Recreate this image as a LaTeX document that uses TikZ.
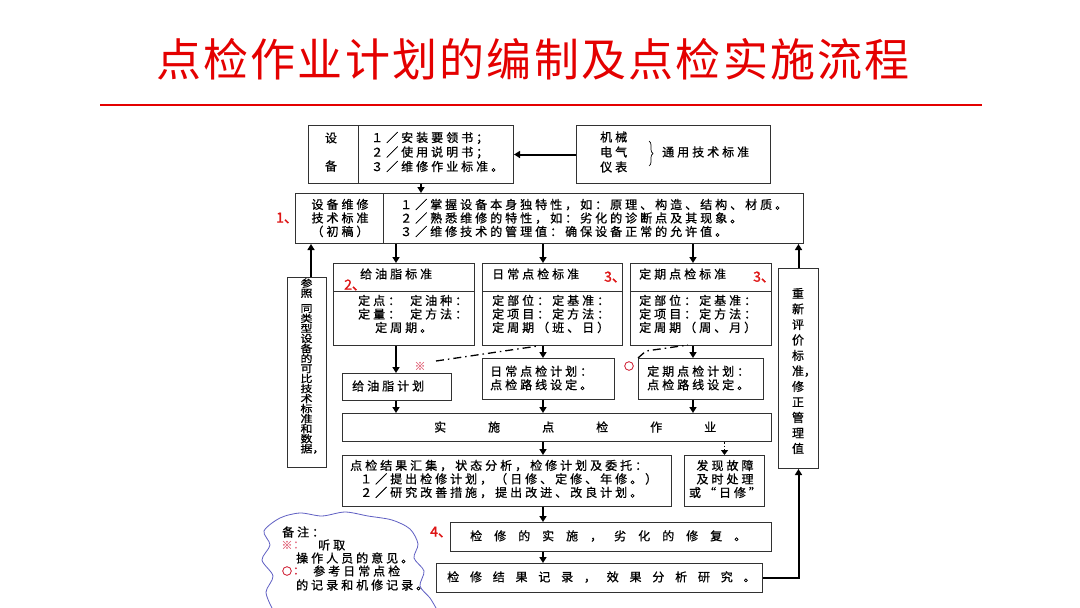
\documentclass[tikz,border=0pt]{standalone}
\usepackage{fontspec}
\setmainfont{Noto Sans CJK SC}
\newfontfamily\cjk{Noto Sans CJK SC}[LetterSpace=25,FakeBold=0.8]
\newfontfamily\titlefont{Noto Sans CJK SC}[LetterSpace=5]
\newfontfamily\plainfont{Noto Sans CJK SC}[FakeBold=0.8]
\newfontfamily\numfont{Noto Sans CJK SC}[FakeBold=1.2]
\newfontfamily\ringfont{Noto Sans CJK SC}[FakeBold=4]
\usetikzlibrary{arrows.meta,calc,decorations.pathreplacing}
\definecolor{titlered}{RGB}{228,0,0}
\definecolor{numred}{RGB}{222,20,20}
\definecolor{markred}{RGB}{228,110,130}
\definecolor{ringred}{RGB}{210,40,60}
\definecolor{cloudblue}{RGB}{95,95,195}
\definecolor{boxline}{RGB}{50,50,50}
\begin{document}
\begin{tikzpicture}[x=1pt,y=-1pt,
  box/.style={draw=boxline,line width=1pt,inner sep=0pt,anchor=north west},
  txt/.style={inner sep=0pt,anchor=west,align=left,font=\cjk\fontsize{12}{13.5}\selectfont},
  ctxt/.style={inner sep=0pt,align=center,font=\cjk\fontsize{12}{13.5}\selectfont},
  arr/.style={line width=2pt,-{Triangle[length=6pt,width=7pt]}},
  num/.style={inner sep=0pt,anchor=west,text=numred,font=\numfont\fontsize{14}{14}\selectfont},
  markst/.style={inner sep=0pt,text=markred,font=\plainfont\fontsize{11}{11}\selectfont},
  ringst/.style={inner sep=0pt,text=ringred,font=\ringfont\fontsize{10}{10}\selectfont},
  divline/.style={draw=boxline,line width=1pt}
]
\useasboundingbox (0,0) rectangle (1080,608);
\fill[white] (0,0) rectangle (1080,608);

% title
\node[inner sep=0pt,text=titlered,font=\titlefont\fontsize{45}{45}\selectfont] (title) at (533,59) {点检作业计划的编制及点检实施流程};
\coordinate (rl1) at (100,105);
\coordinate (rl2) at (982,105);
\draw[titlered,line width=2.5pt] (rl1) -- (rl2);

% boxes
\node[box,minimum width=205pt,minimum height=58pt] (A) at (308,125) {};
\node[box,minimum width=194pt,minimum height=58pt] (B) at (576,125) {};
\node[box,minimum width=508pt,minimum height=50pt] (C) at (295,193) {};
\node[box,minimum width=141pt,minimum height=82pt] (S1) at (333,263) {};
\node[box,minimum width=140pt,minimum height=82pt] (S2) at (482,263) {};
\node[box,minimum width=141pt,minimum height=82pt] (S3) at (630,263) {};
\node[box,minimum width=109pt,minimum height=27pt] (P1) at (342,373) {};
\node[box,minimum width=132pt,minimum height=41pt] (P2) at (482,358) {};
\node[box,minimum width=125pt,minimum height=41pt] (P3) at (638,358) {};
\node[box,minimum width=429pt,minimum height=28pt] (IMP) at (342,413) {};
\node[box,minimum width=329pt,minimum height=51pt] (RES) at (342,455) {};
\node[box,minimum width=80pt,minimum height=51pt] (FAULT) at (684,455) {};
\node[box,minimum width=321pt,minimum height=29pt] (REP) at (450,522) {};
\node[box,minimum width=326pt,minimum height=29pt] (REC) at (436,563) {};
\node[box,minimum width=39pt,minimum height=190pt] (L) at (287,277) {};
\node[box,minimum width=40pt,minimum height=200pt] (R) at (778,268) {};

% dividers
\draw[divline] ($(A.north west)+(50,0)$) -- ($(A.south west)+(50,0)$);
\draw[divline] ($(C.north west)+(88,0)$) -- ($(C.south west)+(88,0)$);
\draw[divline] ($(S1.north west)+(0,28)$) -- ($(S1.north east)+(0,28)$);
\draw[divline] ($(S2.north west)+(0,28)$) -- ($(S2.north east)+(0,28)$);
\draw[divline] ($(S3.north west)+(0,28)$) -- ($(S3.north east)+(0,28)$);

% texts box A, B
\node[ctxt] (a1) at (331,138) {设};
\node[ctxt] (a2) at (331,166) {备};
\node[txt,font=\cjk\fontsize{12}{14.5}\selectfont] (a3) at (371,152) {１／安装要领书；\\２／使用说明书；\\３／维修作业标准。};
\node[txt,font=\cjk\fontsize{12}{15}\selectfont] (b1) at (600,152) {机械\\电气\\仪表};
\draw[decorate,decoration={brace,amplitude=4pt},line width=0.7pt] (649,141) -- (649,166);
\node[txt] (b2) at (662,152) {通用技术标准};

% box C
\node[ctxt] (c1) at (340,218) {设备维修\\技术标准\\（初稿）};
\node[txt] (c2) at (400,218) {１／掌握设备本身独特性，如：原理、构造、结构、材质。\\２／熟悉维修的特性，如：劣化的诊断点及其现象。\\３／维修技术的管理值：确保设备正常的允许值。};

% standards
\node[txt] (s1h) at (360,274) {给油脂标准};
\node[txt] (s1b) at (358,314) {定点：\hspace{10pt}定油种：\\定量：\hspace{10pt}定方法：\\\hspace{17pt}定周期。};
\node[txt] (s2h) at (492,274) {日常点检标准};
\node[txt] (s2b) at (492,314) {定部位：定基准：\\定项目：定方法：\\定周期（班、日）};
\node[txt] (s3h) at (639,274) {定期点检标准};
\node[txt] (s3b) at (639,314) {定部位：定基准：\\定项目：定方法：\\定周期（周、月）};

% plans
\node[txt] (p1t) at (352,386) {给油脂计划};
\node[txt] (p2t) at (490,378) {日常点检计划：\\点检路线设定。};
\node[txt] (p3t) at (647,378) {定期点检计划：\\点检路线设定。};

% implementation
\node[inner sep=0pt,anchor=west,font=\plainfont\fontsize{12}{12}\selectfont\addfontfeature{LetterSpace=350}] (impt) at (434,427) {实施点检作业};
\node[txt] (rest) at (350,479) {点检结果汇集，状态分析，检修计划及委托：\\\hspace{10pt}１／提出检修计划，（日修、定修、年修。）\\\hspace{10pt}２／研究改善措施，提出改进、改良计划。};
\node[ctxt] (faultt) at (725,479) {发现故障\\及时处理\\或“日修”};
\node[inner sep=0pt,anchor=west,font=\plainfont\fontsize{12}{12}\selectfont\addfontfeature{LetterSpace=100}] (rept) at (470,536) {检修的实施，劣化的修复。};
\node[inner sep=0pt,anchor=west,font=\plainfont\fontsize{12}{12}\selectfont\addfontfeature{LetterSpace=90}] (rect) at (447,577) {检修结果记录，效果分析研究。};

% vertical texts
\node[inner sep=0pt,align=center,yscale=0.85,transform shape,font=\plainfont\fontsize{12}{11.8}\selectfont] (lt) at (306.5,366) {参\\照\\[6pt]同\\类\\型\\设\\备\\的\\可\\比\\技\\术\\标\\准\\和\\数\\据\rlap{，}};
\node[inner sep=0pt,align=center,font=\plainfont\fontsize{12}{15.5}\selectfont] (rt) at (798,371) {重\\新\\评\\价\\标\\准\rlap{，}\\修\\正\\管\\理\\值};

% red numbers and marks
\node[num] (n1) at (276,218) {1、};
\node[num] (n2) at (344,285) {2、};
\node[num] (n3a) at (604,277) {3、};
\node[num] (n3b) at (753,277) {3、};
\node[num] (n4) at (430,532) {4、};
\node[markst] (m1) at (420,366) {※};
\node[ringst] (m2) at (629,366) {○};

% columns
\coordinate (k1) at (396,0);
\coordinate (k2) at (543,0);
\coordinate (k3) at (693,0);
\coordinate (k0) at (421,0);

% arrows
\draw[arr] (B.west) -- (A.east);
\draw[arr] (k0 |- A.south) -- (k0 |- C.north);
\draw[arr] (k1 |- C.south) -- (k1 |- S1.north);
\draw[arr] (k2 |- C.south) -- (k2 |- S2.north);
\draw[arr] (k3 |- C.south) -- (k3 |- S3.north);
\draw[arr] (k1 |- S1.south) -- (k1 |- P1.north);
\draw[arr] (k2 |- S2.south) -- (k2 |- P2.north);
\draw[arr] (k3 |- S3.south) -- (k3 |- P3.north);
\draw[arr] (k1 |- P1.south) -- (k1 |- IMP.north);
\draw[arr] (k2 |- P2.south) -- (k2 |- IMP.north);
\draw[arr] (k3 |- P3.south) -- (k3 |- IMP.north);
\draw[arr] (k2 |- IMP.south) -- (k2 |- RES.north);
\draw[line width=1.5pt,dotted,-{Triangle[length=5pt,width=7pt]}] (FAULT.north |- IMP.south) -- (FAULT.north);
\draw[arr] (k2 |- RES.south) -- (k2 |- REP.north);
\draw[arr] (k2 |- REP.south) -- (k2 |- REC.north);
\draw[arr] ([xshift=4pt]L.north) -- ([xshift=4pt]L.north |- C.south);
\draw[arr] (R.north) -- (R.north |- C.south);
\draw[arr] (REC.east) -| (R.south);

% dash-dot hints
\coordinate (d1s) at (436,361);
\coordinate (d1e) at (538,346);
\coordinate (d2s) at (638,358);
\coordinate (d2m) at (646,351);
\coordinate (d2e) at (688,345);
\draw[line width=1.3pt,dash pattern=on 8pt off 4pt on 1.5pt off 4pt] (d1s) -- (d1e);
\draw[line width=1.3pt,dash pattern=on 8pt off 4pt on 1.5pt off 4pt] (d2s) -- (d2m) -- (d2e);

% note cloud
\draw[cloudblue,line width=0.8pt] plot[smooth] coordinates {(272,608) (266,592) (273,576) (262,560) (270,545) (264,531) (280,518) (300,513) (322,516) (345,512) (368,516) (392,520) (410,529) (418,544) (414,558) (424,571) (420,586) (430,598) (436,608)};
\node[txt] (nt0) at (282,532) {备注：};
\node[markst] (nm1) at (287,545) {※};
\node[inner sep=0pt,anchor=west,text=markred,font=\plainfont\fontsize{11}{11}\selectfont] (nc1) at (293,545) {：};
\node[txt] (nt1) at (318,545) {听取};
\node[txt] (nt2) at (296,558) {操作人员的意见。};
\node[ringst] (nm2) at (287,571) {○};
\node[inner sep=0pt,anchor=west,text=ringred,font=\numfont\fontsize{11}{11}\selectfont] (nc2) at (293,571) {：};
\node[txt] (nt3) at (313,571) {参考日常点检};
\node[txt] (nt4) at (296,585) {的记录和机修记录。};
\end{tikzpicture}
\end{document}
